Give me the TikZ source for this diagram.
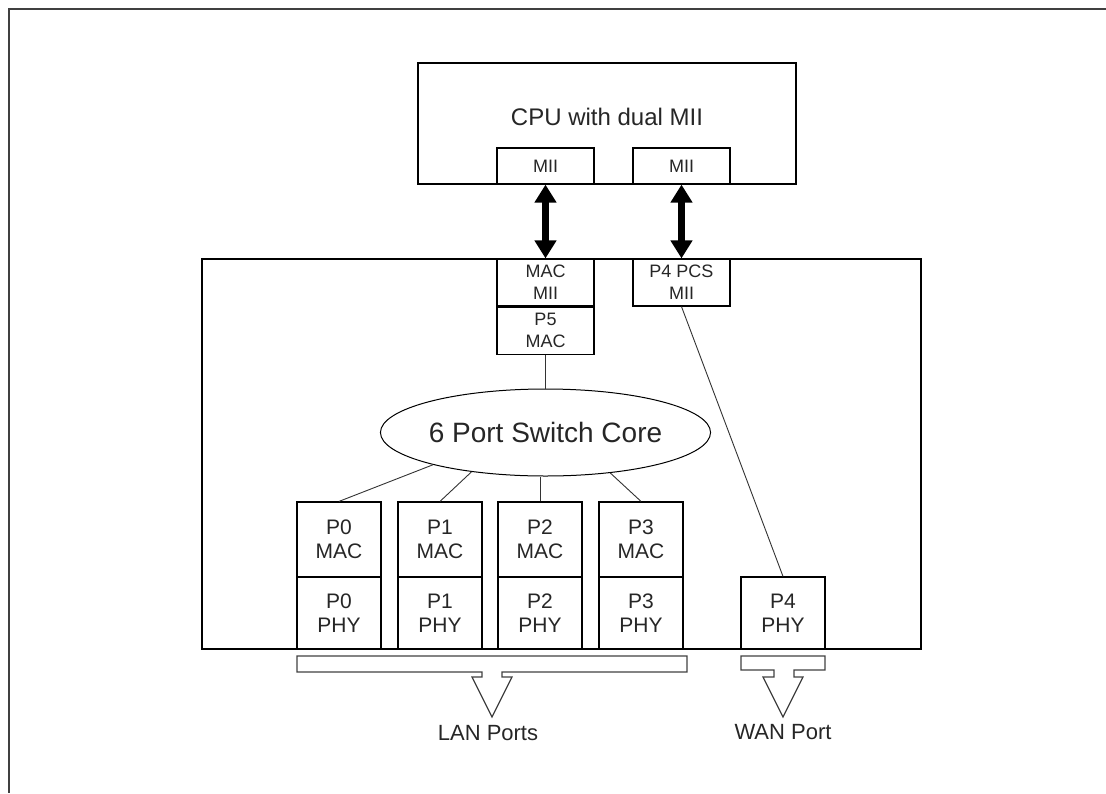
\documentclass[tikz,border=0pt]{standalone}
\usepackage{fontspec}
\setmainfont{Liberation Sans}
\usetikzlibrary{shapes.geometric,arrows.meta}
\begin{document}
\begin{tikzpicture}[x=1pt,y=-1pt,
  box/.style={draw, line width=1.2pt, inner sep=0pt, align=center, text=black!85,
    font=\fontsize{21}{24}\selectfont, minimum width=84pt},
  sbox/.style={draw, line width=1.2pt, inner sep=0pt, align=center, text=black!85,
    font=\fontsize{18}{22}\selectfont, minimum width=97pt},
  wire/.style={line width=0.9pt, black!80},
  bigarrow/.style={line width=7pt, {Triangle[width=21pt,length=18pt]}-{Triangle[width=21pt,length=18pt]}},
  outlet/.style={line width=1.2pt, black!75},
  lbl/.style={inner sep=0pt, text=black!85, font=\fontsize{22}{24}\selectfont}]
\useasboundingbox (0,0) rectangle (1106,793);
% frame
\draw[line width=2pt, black!75] (1106,9) -- (9,9) -- (9,793);
% CPU
\node[draw, line width=1.2pt, minimum width=378pt, minimum height=121pt, inner sep=0pt] (cpu) at (607,123.5) {};
\node[inner sep=0pt, text=black!85, font=\fontsize{24}{28}\selectfont] (cpulabel) at (607,117) {CPU with dual MII};
\node[sbox, minimum height=36pt] (mii1) at (545.5,166) {MII};
\node[sbox, minimum height=36pt] (mii2) at (681.5,166) {MII};
% switch
\node[draw, line width=1.2pt, minimum width=719pt, minimum height=390pt, inner sep=0pt] (switch) at (561.5,454) {};
\node[sbox, minimum height=47pt] (macmii) at (545.5,282.5) {MAC\\MII};
\node[sbox, minimum height=48pt] (p5mac) at (545.5,330.5) {P5\\MAC};
\draw[line width=2.6pt] (macmii.south west) -- (macmii.south east);
\node[sbox, minimum height=47pt] (p4pcs) at (681.5,282.5) {P4 PCS\\MII};
\draw[bigarrow] (mii1.south) -- (macmii.north);
\draw[bigarrow] (mii2.south) -- (p4pcs.north);
% core
\node[draw, ellipse, line width=1pt, minimum width=295pt, minimum height=87pt, inner sep=0pt,
  text=black!85, font=\fontsize{28}{30}\selectfont] (ell) at (545.5,432.5) {6 Port Switch Core};
\draw[wire] (p5mac.south) -- (ell.north);
% ports
\foreach \i/\x in {0/339,1/440,2/540,3/641}{
  \node[box, minimum height=75pt] (p\i mac) at (\x,539.5) {P\i\\MAC};
  \node[box, minimum height=72pt] (p\i phy) at (\x,613) {P\i\\PHY};
}
\node[box, minimum height=72pt] (p4phy) at (783,613) {P4\\PHY};
\draw[wire] (ell.196) -- (p0mac.north);
\draw[wire] (ell.208) -- (p1mac.north);
\draw[wire] (p2mac.north) -- (p2mac.north |- ell.south);
\draw[wire] (ell.328) -- (p3mac.north);
\draw[wire] (p4pcs.south) -- (p4phy.north);
% outlets
\draw[outlet] (297,656) -- (687,656) -- (687,672) -- (502,672) -- (502,677) -- (512,677)
  -- (492,717) -- (472,677) -- (482,677) -- (482,672) -- (297,672) -- cycle;
\draw[outlet] (741,656) -- (825,656) -- (825,670) -- (794,670) -- (794,677) -- (803,677)
  -- (783,717) -- (763,677) -- (774,677) -- (774,670) -- (741,670) -- cycle;
\node[lbl] (lan) at (488,733) {LAN Ports};
\node[lbl] (wan) at (783,732) {WAN Port};
\end{tikzpicture}
\end{document}
